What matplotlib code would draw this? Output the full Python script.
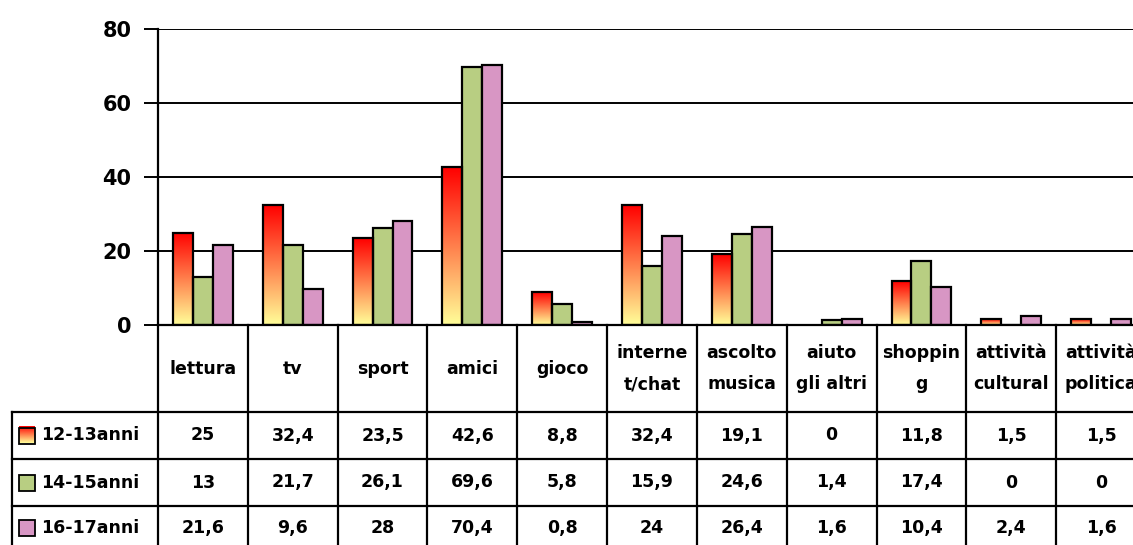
import numpy as np
import matplotlib
matplotlib.use("Agg")
import matplotlib.pyplot as plt
import matplotlib.transforms as mtransforms
from matplotlib.colors import LinearSegmentedColormap
from matplotlib.patches import Rectangle
from matplotlib.lines import Line2D

# ---------------------------------------------------------------------------
# Data
# ---------------------------------------------------------------------------
CATEGORIES = ["lettura", "tv", "sport", "amici", "gioco", "interne\nt/chat",
              "ascolto\nmusica", "aiuto\ngli altri", "shoppin\ng",
              "attività\ncultural", "attività\npolitica"]
SERIES = ["12-13anni", "14-15anni", "16-17anni"]
V_12_13 = [25, 32.4, 23.5, 42.6, 8.8, 32.4, 19.1, 0, 11.8, 1.5, 1.5]
V_14_15 = [13, 21.7, 26.1, 69.6, 5.8, 15.9, 24.6, 1.4, 17.4, 0, 0]
V_16_17 = [21.6, 9.6, 28, 70.4, 0.8, 24, 26.4, 1.6, 10.4, 2.4, 1.6]
Y_TICKS = [0, 20, 40, 60, 80]

GREEN = "#B8CE82"
PINK = "#D896C4"
grad_cmap = LinearSegmentedColormap.from_list("yr", ["#FFFF99", "#FF0000"])

FONT = "DejaVu Sans"
TXT = 12.5

# ---------------------------------------------------------------------------
# Figure (layout in pixels of the 1133x545 canvas)
# ---------------------------------------------------------------------------
W, H = 1133, 545
fig = plt.figure(figsize=(W / 100, H / 100), dpi=100)
fig.patch.set_facecolor("white")


def fx(px):
    return px / W


def fy(py):
    return 1 - py / H


ax = fig.add_axes([fx(158), fy(325), fx(1146) - fx(158), fy(29) - fy(325)])

n = len(CATEGORIES)
x = np.arange(n) + 0.5
width = 0.222
grad = np.linspace(0, 1, 256).reshape(-1, 1)
BAR_LW = 1.6

# ---- bars ----------------------------------------------------------------
for val, xc in zip(V_12_13, x - width):
    if val <= 0:
        continue
    bar = Rectangle((xc - width / 2, 0), width, val, facecolor="none",
                    edgecolor="black", linewidth=BAR_LW, zorder=4)
    ax.add_patch(bar)
    im = ax.imshow(grad, extent=[xc - width / 2, xc + width / 2, 0, val],
                   origin="lower", aspect="auto", cmap=grad_cmap, zorder=3)
    im.set_clip_path(bar)

ax.bar(x, V_14_15, width, color=GREEN, edgecolor="black", linewidth=BAR_LW,
       zorder=3)
ax.bar(x + width, V_16_17, width, color=PINK, edgecolor="black",
       linewidth=BAR_LW, zorder=3)

# ---- axes styling --------------------------------------------------------
ax.set_xlim(0, n)
ax.set_ylim(0, 80)
ax.set_yticks(Y_TICKS)
ax.set_yticklabels([str(t) for t in Y_TICKS], fontsize=15,
                   fontweight="bold", family=FONT)
ax.set_xticks([])
ax.tick_params(axis="y", direction="out", length=10, width=1.4, pad=9)
ax.grid(axis="y", color="black", linewidth=1.4, zorder=1)
ax.set_axisbelow(True)
for s in ["top", "right"]:
    ax.spines[s].set_visible(False)
for s in ["left", "bottom"]:
    ax.spines[s].set_linewidth(1.6)
    ax.spines[s].set_zorder(5)

# ---- data table ----------------------------------------------------------
blend = mtransforms.blended_transform_factory(ax.transData, fig.transFigure)
row_edges = [325, 412, 459, 506, 560]
lw = 1.6

# horizontal lines
for ry in row_edges[1:-1]:
    fig.add_artist(Line2D([fx(12), fx(1146)], [fy(ry), fy(ry)],
                          color="black", linewidth=lw))
# outer left border of row labels
fig.add_artist(Line2D([fx(12), fx(12)], [fy(row_edges[1]), fy(row_edges[-1])],
                      color="black", linewidth=lw))
# column borders
for i in range(n + 1):
    ax.add_artist(Line2D([i, i], [fy(row_edges[0]), fy(row_edges[-1])],
                         color="black", linewidth=lw, transform=blend,
                         clip_on=False))

# header
for xc, cat in zip(x, CATEGORIES):
    ax.text(xc, fy((row_edges[0] + row_edges[1]) / 2), cat, transform=blend,
            ha="center", va="center", fontsize=TXT, fontweight="bold",
            family=FONT, linespacing=1.95, clip_on=False)

# values and row labels
fmt = lambda v: f"{v:g}".replace(".", ",")
for r, (name, vals) in enumerate(zip(SERIES, [V_12_13, V_14_15, V_16_17])):
    yc = fy((row_edges[r + 1] + row_edges[r + 2]) / 2)
    if r == 2:
        yc = fy(528)
    for xc, v in zip(x, vals):
        ax.text(xc, yc, fmt(v), transform=blend, ha="center", va="center",
                fontsize=TXT, fontweight="bold", family=FONT, clip_on=False)
    fig.text(fx(41), yc, name, ha="left", va="center", fontsize=TXT,
             fontweight="bold", family=FONT)
    # legend key
    k0, k1 = fx(19), fx(35)
    kb, kt = yc - 8 / H, yc + 8 / H
    key = Rectangle((k0, kb), k1 - k0, kt - kb, transform=fig.transFigure,
                    facecolor=[None, GREEN, PINK][r] if r else "none",
                    edgecolor="black", linewidth=1.3, zorder=4)
    fig.add_artist(key)
    if r == 0:
        kim = ax.imshow(grad, extent=[k0, k1, kb, kt], origin="lower",
                        aspect="auto", cmap=grad_cmap, zorder=3,
                        transform=fig.transFigure, clip_on=False)

ax.set_xlim(0, n)
ax.set_ylim(0, 80)

fig.savefig("out.png", dpi=100)
